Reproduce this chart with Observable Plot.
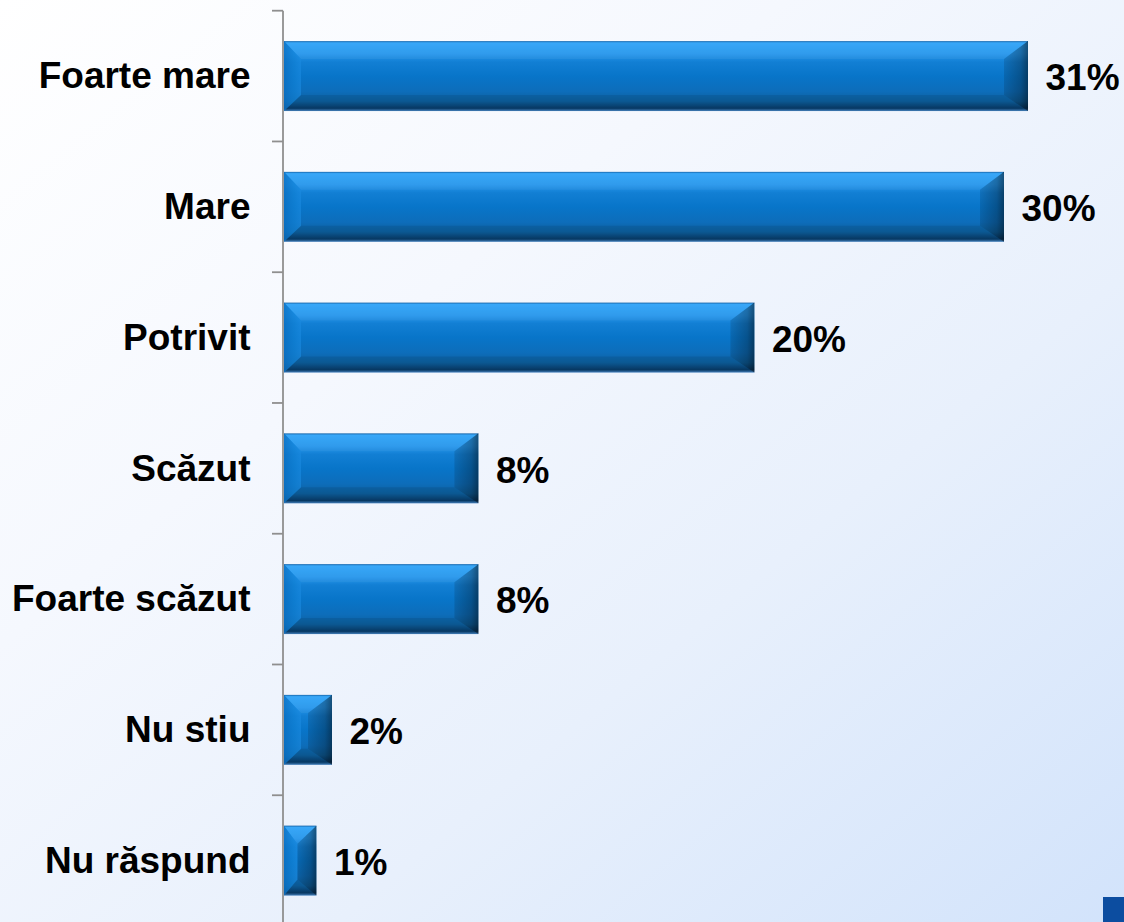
<!DOCTYPE html>
<html>
<head>
<meta charset="utf-8">
<script src="https://cdn.jsdelivr.net/npm/d3@7"></script>
<script src="https://cdn.jsdelivr.net/npm/@observablehq/plot@0.6"></script>
<style>
html, body { margin: 0; padding: 0; width: 1124px; height: 922px; overflow: hidden; }
body {
  position: relative;
  background: linear-gradient(to bottom right, #ffffff 0%, #f5f8fe 35%, #e8f0fc 65%, #d2e3fb 100%);
  font-family: "Liberation Sans", Arial, sans-serif;
}
#chart svg { display: block; }
.corner { position: absolute; right: 0; bottom: 0; width: 21px; height: 25px; background: #0c4da0; }
</style>
</head>
<body>
<div id="chart"></div>
<div class="corner"></div>
<script>
const categories = ["Foarte mare", "Mare", "Potrivit", "Scăzut", "Foarte scăzut", "Nu stiu", "Nu răspund"];
const shares = [31.0, 30.0, 19.6, 8.1, 8.1, 2.0, 1.35];
const shareLabels = ["31%", "30%", "20%", "8%", "8%", "2%", "1%"];

const data = categories.map((c, i) => ({cat: c, value: shares[i], label: shareLabels[i]}));

function stopList(grad, stops) {
  for (const [o, c, a] of stops) {
    grad.append("stop").attr("offset", o).attr("stop-color", c).attr("stop-opacity", a == null ? 1 : a);
  }
}

// Gradient definitions
const defsMark = () => {
  const g = d3.create("svg:g");
  const defs = g.append("defs");
  const base = defs.append("linearGradient").attr("id", "barGrad").attr("x1", 0).attr("y1", 0).attr("x2", 0).attr("y2", 1);
  stopList(base, [
    [0, "#0b5ea6"], [0.025, "#2ea3f8"], [0.18, "#2596ec"], [0.3, "#127fd4"],
    [0.5, "#0875c9"], [0.72, "#0d6dba"], [0.86, "#0d609f"], [0.96, "#083d6b"], [1, "#4a8bcb"]
  ]);
  const left = defs.append("linearGradient").attr("id", "leftGrad").attr("x1", 0).attr("y1", 0).attr("x2", 1).attr("y2", 0);
  stopList(left, [[0, "#0a6fc2", 0.8], [0.6, "#1080d4", 0.7], [1, "#1a8ae0", 0.65]]);
  const right = defs.append("linearGradient").attr("id", "rightGrad").attr("x1", 0).attr("y1", 0).attr("x2", 1).attr("y2", 0);
  stopList(right, [[0, "#000", 0.12], [0.7, "#000", 0.3], [1, "#000", 0.5]]);
  return g.node();
};

// Axis line with ticks between bands
const decorMark = (index, scales) => {
  const x = scales.x, y = scales.y;
  const g = d3.create("svg:g");
  const bw = y.bandwidth();
  const step = y.step ? y.step() : bw;
  const pad = (step - bw) / 2;
  const x0 = x(0);
  const first = y(categories[0]) - pad;
  const lines = g.append("g").attr("stroke", "#8f8f8f").attr("stroke-width", 1.8);
  lines.append("line").attr("x1", x0 - 1).attr("x2", x0 - 1).attr("y1", first).attr("y2", first + step * categories.length + 20);
  for (let i = 0; i <= categories.length; i++) {
    const ty = first + i * step;
    lines.append("line").attr("x1", x0 - 12).attr("x2", x0 - 1).attr("y1", ty).attr("y2", ty);
  }
  return g.node();
};

// Bevels on every bar
const bevelMark = (index, scales) => {
  const x = scales.x, y = scales.y;
  const g = d3.create("svg:g");
  const bw = y.bandwidth();
  for (const d of data) {
    const x0 = x(0), x1 = x(d.value), y0 = y(d.cat), y1 = y0 + bw;
    const w = x1 - x0;
    let L = 17, R = 24;
    if (L + R > w) { L = w * 17 / 41; R = w * 24 / 41; }
    const T = 18, B = 16;
    const poly = (pts, fill) => g.append("polygon").attr("points", pts.map(p => p.join(",")).join(" ")).attr("fill", fill);
    poly([[x0, y0], [x1, y0], [x1 - R, y0 + T], [x0 + L, y0 + T]], "rgba(255,255,255,0.05)");
    poly([[x0, y1], [x1, y1], [x1 - R, y1 - B], [x0 + L, y1 - B]], "rgba(0,0,0,0.08)");
    poly([[x0, y0], [x0 + L, y0 + T], [x0 + L, y1 - B], [x0, y1]], "url(#leftGrad)");
    poly([[x1, y0], [x1 - R, y0 + T], [x1 - R, y1 - B], [x1, y1]], "url(#rightGrad)");
  }
  return g.node();
};

const chart = Plot.plot({
  width: 1124,
  height: 926,
  marginTop: 10.7,
  marginBottom: 0,
  marginLeft: 284,
  marginRight: 0,
  style: {background: "transparent", fontFamily: "'Liberation Sans', Arial, sans-serif", overflow: "visible"},
  x: {domain: [0, 35], axis: null},
  y: {domain: categories, paddingInner: 0.465, paddingOuter: 0.2325, round: false, label: null},
  marks: [
    defsMark,
    decorMark,
    Plot.barX(data, {x: "value", y: "cat", fill: "url(#barGrad)"}),
    bevelMark,
    Plot.axisY({tickSize: 0, tickPadding: 34, fontSize: 37, fontWeight: "bold", fill: "black", label: null}),
    Plot.text(data, {x: "value", y: "cat", text: "label", dx: 17, dy: 2, textAnchor: "start", fontSize: 37, fontWeight: "bold", fill: "black"})
  ]
});
document.getElementById("chart").appendChild(chart);
</script>
</body>
</html>
